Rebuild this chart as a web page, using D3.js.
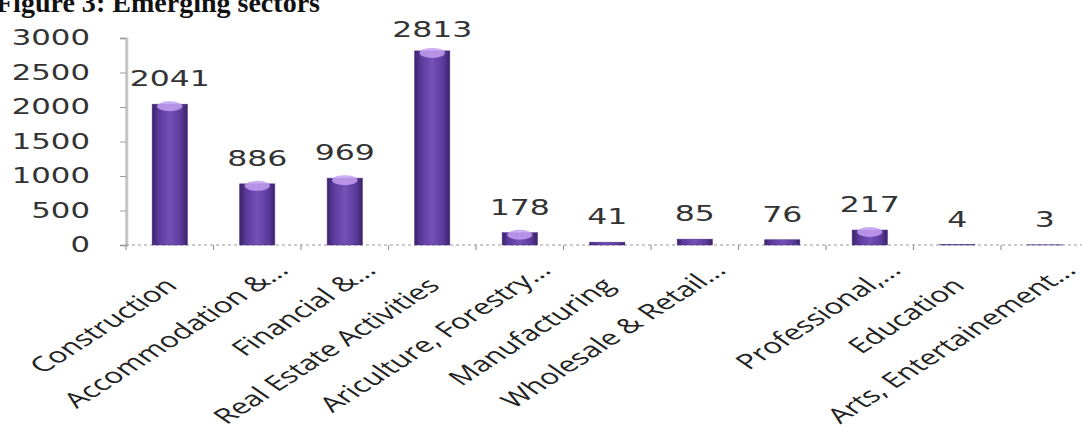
<!DOCTYPE html>
<html>
<head>
<meta charset="utf-8">
<script src="https://cdn.jsdelivr.net/npm/d3@7"></script>
<style>
  body { margin: 0; background: #fff; }
  svg { display: block; }
</style>
</head>
<body>
<div id="chart"></div>
<script>
const categories = ["Construction", "Accommodation &...", "Financial &...", "Real Estate Activities",
    "Ariculture, Forestry...", "Manufacturing", "Wholesale & Retail...", "", "Professional,...",
    "Education", "Arts, Entertainement..."];
const values = [2041, 886, 969, 2813, 178, 41, 85, 76, 217, 4, 3];
const yTicks = [0, 500, 1000, 1500, 2000, 2500, 3000];
const title = "Figure 3: Emerging sectors";

const width = 1082, height = 437;
// the source picture is stretched sideways, so draw in a narrow frame and scale it
const stretch = 1.5;

const svg = d3.select("#chart").append("svg")
    .attr("width", width)
    .attr("height", height);

// title sits against the top edge in the source
svg.append("text")
    .attr("x", -4)
    .attr("y", 12)
    .attr("font-family", "'Liberation Serif', serif")
    .attr("font-weight", "bold")
    .attr("font-size", 28)
    .attr("textLength", 324)
    .attr("lengthAdjust", "spacingAndGlyphs")
    .attr("fill", "#111")
    .text(title);

const defs = svg.append("defs");
const grad = defs.append("linearGradient").attr("id", "barGrad")
    .attr("x1", "0%").attr("x2", "100%").attr("y1", "0%").attr("y2", "0%");
grad.append("stop").attr("offset", "0%").attr("stop-color", "#3a2468");
grad.append("stop").attr("offset", "18%").attr("stop-color", "#5c3a9c");
grad.append("stop").attr("offset", "50%").attr("stop-color", "#7550b8");
grad.append("stop").attr("offset", "82%").attr("stop-color", "#5c3a9c");
grad.append("stop").attr("offset", "100%").attr("stop-color", "#3a2468");

const g = svg.append("g")
    .attr("transform", "scale(" + stretch + ",1)");

const x0 = 126 / stretch, x1 = (126 + 87.5 * 11) / stretch;
const xScale = d3.scaleBand()
    .domain(d3.range(categories.length))
    .range([x0, x1])
    .paddingInner(0.6)
    .paddingOuter(0.3);

const yScale = d3.scaleLinear()
    .domain([0, 3000])
    .range([245, 38]);

// y axis
const yAxis = g.append("g")
    .attr("transform", "translate(" + x0 + ",0)")
    .call(d3.axisLeft(yScale).tickValues(yTicks).tickFormat(d3.format("d")).tickSize(4).tickPadding(20));
yAxis.select(".domain").attr("stroke", "#c4c4c4").attr("stroke-width", 2);
yAxis.selectAll(".tick line").attr("stroke", "#888").attr("stroke-width", 0.8);
yAxis.selectAll(".tick text")
    .attr("font-family", "'DejaVu Sans', sans-serif")
    .attr("font-size", 20.5)
    .attr("fill", "#333");

// x axis line and tick marks between bands
const xAxisG = g.append("g");
xAxisG.append("line")
    .attr("x1", x0).attr("x2", x1)
    .attr("y1", yScale(0)).attr("y2", yScale(0))
    .attr("stroke", "#999")
    .attr("stroke-width", 1)
    .attr("stroke-dasharray", "2,2");
const step = xScale.step();
xAxisG.selectAll(".xt")
    .data(d3.range(categories.length + 1))
    .join("line")
    .attr("class", "xt")
    .attr("x1", i => x0 + i * step).attr("x2", i => x0 + i * step)
    .attr("y1", yScale(0)).attr("y2", yScale(0) + 5)
    .attr("stroke", "#999")
    .attr("stroke-width", 0.8);

// bars
const bars = g.selectAll(".bar")
    .data(values.map((v, i) => ({ v: v, i: i })))
    .join("g")
    .attr("class", "bar");

bars.append("rect")
    .attr("x", d => xScale(d.i))
    .attr("y", d => yScale(d.v))
    .attr("width", xScale.bandwidth())
    .attr("height", d => yScale(0) - yScale(d.v))
    .attr("fill", "url(#barGrad)")
    .attr("stroke", "#4a2a85")
    .attr("stroke-width", 0.5);

bars.filter(d => yScale(0) - yScale(d.v) > 6)
    .append("ellipse")
    .attr("cx", d => xScale(d.i) + xScale.bandwidth() / 2)
    .attr("cy", d => yScale(d.v) + 2)
    .attr("rx", xScale.bandwidth() * 0.36)
    .attr("ry", 5)
    .attr("fill", "#c3a0f0")
    .attr("opacity", 0.85);

// data labels
g.selectAll(".val")
    .data(values)
    .join("text")
    .attr("class", "val")
    .attr("x", (d, i) => xScale(i) + xScale.bandwidth() / 2)
    .attr("y", d => Math.max(yScale(d) - 18, 37))
    .attr("text-anchor", "middle")
    .attr("font-family", "'DejaVu Sans', sans-serif")
    .attr("font-size", 21)
    .attr("fill", "#333")
    .text(d => d);

// category labels, truncated ones sit a bit further out like the source
g.selectAll(".cat")
    .data(categories)
    .join("text")
    .attr("class", "cat")
    .attr("text-anchor", "end")
    .attr("transform", (d, i) => "translate(" + (xScale(i) + xScale.bandwidth() / 2 + 6) + "," + 287 + ") rotate(-44)")
    .attr("dx", d => d.endsWith("...") ? 22 : 0)
    .attr("font-family", "'Open Sans', sans-serif")
    .attr("font-size", 21)
    .attr("fill", "#222")
    .text(d => d);
</script>
</body>
</html>
